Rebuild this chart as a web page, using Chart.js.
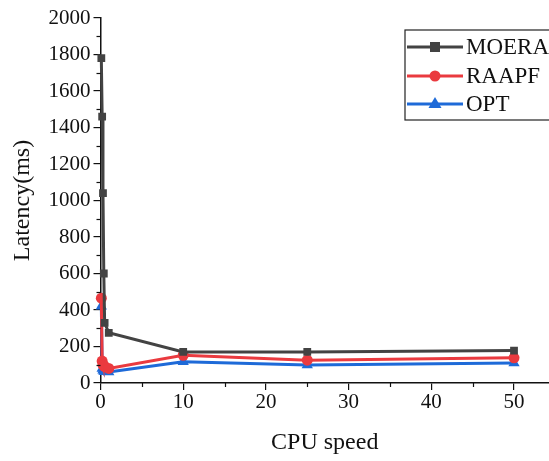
<!DOCTYPE html>
<html><head><meta charset="utf-8">
<script src="https://cdn.jsdelivr.net/npm/chart.js@4.4.0/dist/chart.umd.min.js"></script>
<style>html,body{margin:0;padding:0;background:#fff}#c{display:block}</style>
</head><body>
<canvas id="c" width="549" height="461"></canvas>
<script>
const cpuSpeed = [0.1, 0.2, 0.3, 0.4, 0.5, 1, 10, 25, 50];
const moera = [1780, 1460, 1040, 600, 330, 275, 170, 170, 178];
const raapf = [465, 120, 100, 95, 90, 80, 152, 125, 138];
const opt = [420, 80, 70, 65, 62, 60, 117, 98, 110];
const xTicks = [0, 10, 20, 30, 40, 50];
const yTicks = [0, 200, 400, 600, 800, 1000, 1200, 1400, 1600, 1800, 2000];
const xMinor = [5, 15, 25, 35, 45];
const yMinor = [100, 300, 500, 700, 900, 1100, 1300, 1500, 1700, 1900];
const seriesNames = ['MOERA', 'RAAPF', 'OPT'];
const colors = ['#434343', '#ea3a3f', '#1e6ad8'];
const styles = ['rect', 'circle', 'triangle'];
const FONT = "'Liberation Serif', 'Times New Roman', serif";

function pts(v){ return cpuSpeed.map((x,i)=>({x, y:v[i]})); }
const allData = [moera, raapf, opt];

const legendPlugin = {
  id: 'boxLegend',
  afterDraw(chart){
    const ctx = chart.ctx;
    ctx.save();
    const a = chart.chartArea;
    const xs = chart.scales.x, ys = chart.scales.y;
    ctx.strokeStyle = '#111'; ctx.lineCap = 'butt';
    ctx.lineWidth = 1.2;
    xMinor.forEach(v => { const p = Math.round(xs.getPixelForValue(v)) + 0.5; ctx.beginPath(); ctx.moveTo(p, a.bottom); ctx.lineTo(p, a.bottom + 4); ctx.stroke(); });
    yMinor.forEach(v => { const p = Math.round(ys.getPixelForValue(v)) + 0.5; ctx.beginPath(); ctx.moveTo(a.left, p); ctx.lineTo(a.left - 4, p); ctx.stroke(); });
    const bx = 405, by = 30, bw = 160, bh = 90;
    ctx.strokeStyle = '#222'; ctx.lineWidth = 1.2;
    ctx.strokeRect(bx, by, bw, bh);
    const rows = [47, 76, 104];
    rows.forEach((yy, i) => {
      ctx.strokeStyle = colors[i]; ctx.lineWidth = 3;
      ctx.beginPath(); ctx.moveTo(407, yy); ctx.lineTo(463, yy); ctx.stroke();
      ctx.fillStyle = colors[i];
      const cx = 435;
      if (styles[i] === 'rect') ctx.fillRect(cx-5, yy-5, 10, 10);
      else if (styles[i] === 'circle') { ctx.beginPath(); ctx.arc(cx, yy, 5.5, 0, Math.PI*2); ctx.fill(); }
      else { ctx.beginPath(); ctx.moveTo(cx, yy-7); ctx.lineTo(cx+6.5, yy+4); ctx.lineTo(cx-6.5, yy+4); ctx.closePath(); ctx.fill(); }
      ctx.fillStyle = '#111';
      ctx.font = '23px ' + FONT;
      ctx.textBaseline = 'middle';
      ctx.fillText(seriesNames[i], 466, yy + 1);
    });
    ctx.restore();
  }
};

new Chart(document.getElementById('c'), {
  type: 'scatter',
  data: {
    datasets: allData.map((d, i) => ({
      label: seriesNames[i],
      data: pts(d),
      showLine: true,
      borderColor: colors[i],
      backgroundColor: colors[i],
      borderWidth: 3,
      pointStyle: styles[i],
      pointRadius: styles[i] === 'triangle' ? 6.5 : 5.5,
      pointBorderWidth: 0,
      tension: 0,
      clip: 8
    }))
  },
  options: {
    responsive: false,
    animation: false,
    devicePixelRatio: 1,
    layout: { autoPadding: false, padding: { top: 18, left: 4, right: 0, bottom: 0 } },
    plugins: { legend: { display: false }, tooltip: { enabled: false } },
    scales: {
      x: {
        type: 'linear', min: 0, max: 54.23,
        afterFit(s){ s.height = 78; s.paddingRight = 0; },
        afterBuildTicks(s){ s.ticks = xTicks.map(v=>({value:v})); },
        ticks: {
          font: { family: FONT, size: 21 }, color: '#111', padding: 0, maxRotation: 0, autoSkip: false,
          callback: v => String(v)
        },
        grid: { display: true, drawOnChartArea: false, drawTicks: true, tickLength: 7, color: '#111', lineWidth: 1.2 },
        border: { display: true, color: '#111', width: 1.5 },
        title: { display: true, text: 'CPU speed', font: { family: FONT, size: 24 }, color: '#111', padding: { top: 8 } }
      },
      y: {
        type: 'linear', min: 0, max: 2000,
        afterFit(s){ s.width = 96.5; },
        afterBuildTicks(s){ s.ticks = yTicks.map(v=>({value:v})); },
        ticks: {
          font: { family: FONT, size: 21 }, color: '#111', padding: 3, autoSkip: false,
          callback: v => String(v)
        },
        grid: { display: true, drawOnChartArea: false, drawTicks: true, tickLength: 7, color: '#111', lineWidth: 1.2 },
        border: { display: true, color: '#111', width: 1.5 },
        title: { display: true, text: 'Latency(ms)', font: { family: FONT, size: 24 }, color: '#111', padding: { bottom: 0 } }
      }
    }
  },
  plugins: [legendPlugin]
});
</script>
</body></html>
